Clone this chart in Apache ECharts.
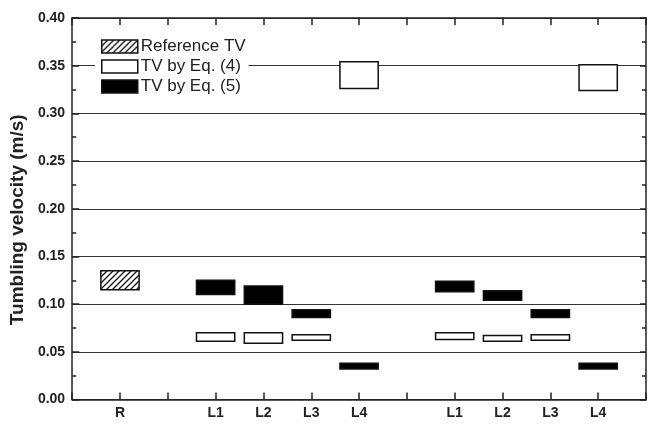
<!DOCTYPE html>
<html><head><meta charset="utf-8">
<script src="https://cdn.jsdelivr.net/npm/echarts@6/dist/echarts.min.js"></script>
<style>html,body{margin:0;padding:0;background:#fff}#c{width:649px;height:425px}</style>
</head><body><div id="c"></div>
<script>
// Tick labels at x positions
const tickPositions = [1, 3, 4, 5, 6, 8, 9, 10, 11];
const tickNames = ['R', 'L1', 'L2', 'L3', 'L4', 'L1', 'L2', 'L3', 'L4'];

// Reference TV (hatched)
const refX = [1];
const refLow = [0.115];
const refHigh = [0.135];

// TV by Eq. (4) (white boxes)
const eq4X = [3, 4, 5, 6, 8, 9, 10, 11];
const eq4Low = [0.061, 0.059, 0.062, 0.326, 0.063, 0.061, 0.062, 0.324];
const eq4High = [0.070, 0.070, 0.068, 0.354, 0.070, 0.067, 0.068, 0.351];

// TV by Eq. (5) (black boxes)
const eq5X = [3, 4, 5, 6, 8, 9, 10, 11];
const eq5Low = [0.110, 0.100, 0.086, 0.032, 0.113, 0.104, 0.086, 0.032];
const eq5High = [0.125, 0.119, 0.094, 0.038, 0.124, 0.114, 0.094, 0.038];

const seriesNames = ['Reference TV', 'TV by Eq. (4)', 'TV by Eq. (5)'];

function hatch() {
  const c = document.createElement('canvas');
  c.width = 6; c.height = 6;
  const g = c.getContext('2d');
  g.fillStyle = '#fff'; g.fillRect(0, 0, 6, 6);
  g.strokeStyle = '#111'; g.lineWidth = 1.3;
  g.beginPath();
  g.moveTo(-1, 7); g.lineTo(7, -1);
  g.moveTo(-4, 4); g.lineTo(4, -4);
  g.moveTo(2, 10); g.lineTo(10, 2);
  g.stroke();
  return { image: c, repeat: 'repeat' };
}
const hatchFill = hatch();

function zip(xs, lo, hi) { return xs.map((x, i) => [x, lo[i], hi[i]]); }

function makeRender(fill) {
  return function (params, api) {
    const x = api.value(0), lo = api.value(1), hi = api.value(2);
    const p1 = api.coord([x - 0.4, hi]);
    const p2 = api.coord([x + 0.4, lo]);
    return {
      type: 'rect',
      shape: { x: p1[0], y: p1[1], width: p2[0] - p1[0], height: p2[1] - p1[1] },
      style: { fill: fill, stroke: '#111', lineWidth: 1.5 }
    };
  };
}

const chart = echarts.init(document.getElementById('c'), null, { renderer: 'canvas' });
const axisCol = '#222';
const fontFam = 'Liberation Sans, Arial, sans-serif';

chart.setOption({
  animation: false,
  backgroundColor: '#fff',
  grid: { left: 70.5, right: 0.5, top: 18, bottom: 25.5 },
  legend: {
    orient: 'vertical', left: 95, top: 35,
    itemWidth: 36, itemHeight: 13, itemGap: 3,
    padding: [3, 3, 3, 6],
    backgroundColor: '#fff',
    textStyle: { fontSize: 17, color: '#222', fontFamily: fontFam, padding: [0, 0, 0, -2] },
    selectedMode: false,
    data: [
      { name: seriesNames[0], icon: 'rect', itemStyle: { color: hatchFill, borderColor: '#111', borderWidth: 1.5 } },
      { name: seriesNames[1], icon: 'rect', itemStyle: { color: '#fff', borderColor: '#111', borderWidth: 1.5 } },
      { name: seriesNames[2], icon: 'rect', itemStyle: { color: '#000', borderColor: '#111', borderWidth: 1.5 } }
    ]
  },
  xAxis: [{
    type: 'value', min: 0, max: 12, interval: 1, position: 'bottom',
    axisLine: { show: true, onZero: false, lineStyle: { color: axisCol, width: 1.5 } },
    axisTick: { show: true, inside: true, length: 7, lineStyle: { color: axisCol, width: 1.5 } },
    splitLine: { show: false },
    axisLabel: {
      show: true, margin: 7, fontSize: 14, fontWeight: 'bold', color: '#222', fontFamily: fontFam,
      showMinLabel: true, showMaxLabel: true,
      formatter: v => { const i = tickPositions.indexOf(v); return i >= 0 ? tickNames[i] : ''; }
    }
  }, {
    type: 'value', min: 0, max: 12, interval: 1, position: 'top',
    axisLine: { show: true, onZero: false, lineStyle: { color: axisCol, width: 1.5 } },
    axisTick: { show: true, inside: true, length: 7, lineStyle: { color: axisCol, width: 1.5 } },
    splitLine: { show: false }, axisLabel: { show: false }
  }],
  yAxis: [{
    type: 'value', min: 0, max: 0.40, interval: 0.05, position: 'left',
    name: 'Tumbling velocity (m/s)', nameLocation: 'middle', nameGap: 44,
    nameTextStyle: { fontSize: 19, fontWeight: 'bold', color: '#222', fontFamily: fontFam, padding: [0, 22, 0, 0] },
    axisLine: { show: true, onZero: false, lineStyle: { color: axisCol, width: 1.5 } },
    axisTick: { show: true, inside: true, length: 7, lineStyle: { color: axisCol, width: 1.5 } },
    minorTick: { show: true, splitNumber: 2, length: 4, lineStyle: { color: axisCol, width: 1.5 } },
    splitLine: { show: true, lineStyle: { color: '#333', width: 1.2 } },
    axisLabel: { fontSize: 14, fontWeight: 'bold', color: '#222', margin: 7, fontFamily: fontFam,
      formatter: v => v.toFixed(2) }
  }, {
    type: 'value', min: 0, max: 0.40, interval: 0.05, position: 'right',
    axisLine: { show: true, onZero: false, lineStyle: { color: axisCol, width: 1.5 } },
    axisTick: { show: true, inside: true, length: 6, lineStyle: { color: axisCol, width: 1.5 } },
    minorTick: { show: true, splitNumber: 2, length: 4, lineStyle: { color: axisCol, width: 1.5 } },
    splitLine: { show: false }, axisLabel: { show: false }
  }],
  series: [
    { name: seriesNames[0], type: 'custom', renderItem: makeRender(hatchFill), data: zip(refX, refLow, refHigh),
      itemStyle: { color: '#888' }, encode: { x: 0, y: [1, 2] }, z: 5 },
    { name: seriesNames[1], type: 'custom', renderItem: makeRender('#fff'), data: zip(eq4X, eq4Low, eq4High),
      itemStyle: { color: '#fff' }, encode: { x: 0, y: [1, 2] }, z: 5 },
    { name: seriesNames[2], type: 'custom', renderItem: makeRender('#000'), data: zip(eq5X, eq5Low, eq5High),
      itemStyle: { color: '#000' }, encode: { x: 0, y: [1, 2] }, z: 5 }
  ]
});
</script>
</body></html>
